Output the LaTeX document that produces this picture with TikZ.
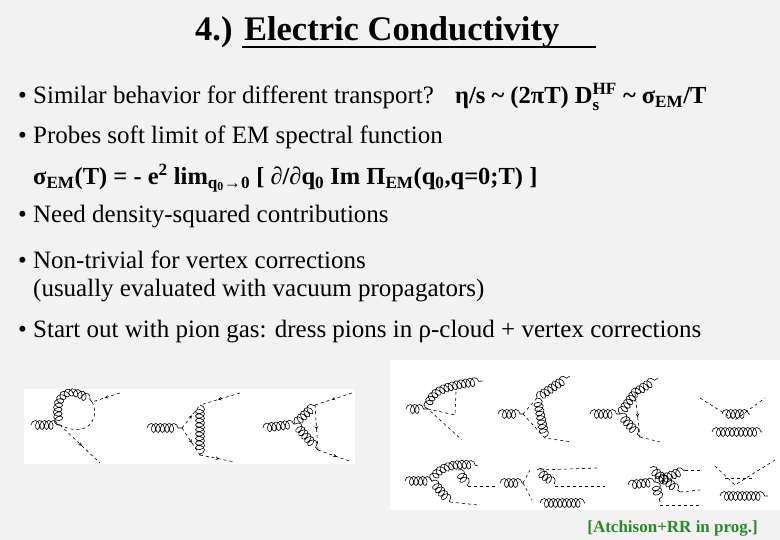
\documentclass[tikz,border=0pt]{standalone}
\usepackage{amsmath}
\usepackage{fontspec}
\setmainfont{Liberation Serif}
\usetikzlibrary{decorations.pathmorphing,decorations.markings}
\definecolor{bg}{HTML}{F2F2F2}
\definecolor{grn}{HTML}{2A8A2A}
\newcommand{\sbx}[1]{\textsubscript{#1}}
\newcommand{\spx}[1]{\textsuperscript{#1}}
\begin{document}
\begin{tikzpicture}[x=1pt,y=-1pt,
  txt/.style={anchor=west,inner sep=0pt,font=\fontsize{25}{28}\selectfont},
  btxt/.style={anchor=west,inner sep=0pt,font=\fontsize{24.5}{28}\selectfont\bfseries},
  gl/.style={decorate,decoration={coil,aspect=0.7,segment length=4.5pt,amplitude=4.5pt},line width=0.6pt},
  dl/.style={line width=0.6pt,dash pattern=on 3pt off 3pt},
  da/.style={dl,postaction={decorate},decoration={markings,mark=at position 0.55 with {\arrow{stealth}}}},
  panel/.style={fill=white,draw=none}]
\fill[bg] (0,0) rectangle (780,540);
\useasboundingbox (0,0) rectangle (780,540);
% title
\node[inner sep=0pt,anchor=west,font=\fontsize{34.5}{38}\selectfont\bfseries] (title) at (195,32) {4.) Electric Conductivity};
\draw[line width=1.3pt] (242,47) -- (596,47);
% bullets
\node[txt] (b1) at (18,97) {• Similar behavior for different transport?};
\node[btxt] (r1) at (455,97) {η/s \textasciitilde{} (2πT) D$_{\text{s}}^{\text{HF}}$ \textasciitilde{} σ\sbx{EM}/T};
\node[txt] (b2) at (18,137) {• Probes soft limit of EM spectral function};
\node[btxt] (f) at (33,178) {σ\sbx{EM}(T) = - e\spx{2} lim\sbx{q\sbx{0}→0} [ ∂/∂q\sbx{0} Im Π\sbx{EM}(q\sbx{0},q=0;T) ]};
\node[txt] (b3) at (18,217) {• Need density-squared contributions};
\node[txt] (b4) at (18,260) {• Non-trivial for vertex corrections};
\node[txt] (b4b) at (33,291) {(usually evaluated with vacuum propagators)};
\node[txt] (b5) at (18,332) {• Start out with pion gas: dress pions in ρ-cloud + vertex corrections};
% panels
\fill[panel] (24,389) rectangle (355,464);
\fill[panel] (390,360) rectangle (780,510);
% left diagram 1
\coordinate (a0) at (31,425); \coordinate (a1) at (60,425);
\coordinate (a2) at (92,402); \coordinate (a3) at (120,393); \coordinate (a4) at (100,463);
\draw[gl] (a0) -- (a1);
\draw[gl] (a1) .. controls (52,395) and (70,385) .. (a2);
\draw[dl] (a2) .. controls (100,415) and (90,440) .. (a1);
\draw[da] (a3) -- (a2);
\draw[da] (a1) -- (a4);
% left diagram 2
\coordinate (c0) at (147,428); \coordinate (c1) at (182,428);
\coordinate (c2) at (200,405); \coordinate (c3) at (200,455);
\coordinate (c4) at (240,393); \coordinate (c5) at (235,462);
\draw[gl] (c0) -- (c1);
\draw[da] (c1) -- (c2); \draw[da] (c1) -- (c3);
\draw[gl] (c2) -- (c3);
\draw[da] (c4) -- (c2); \draw[da] (c3) -- (c5);
% left diagram 3
\coordinate (d0) at (263,428); \coordinate (d1) at (295,424);
\coordinate (d2) at (315,405); \coordinate (d3) at (318,450);
\coordinate (d4) at (352,393); \coordinate (d5) at (352,462);
\draw[gl] (d0) -- (d1);
\draw[gl] (d1) -- (d3);
\draw[gl] (d1) -- (d2);
\draw[da] (d2) -- (d3);
\draw[da] (d4) -- (d2); \draw[da] (d3) -- (d5);
% right row 1
\coordinate (e0) at (406,409); \coordinate (e1) at (428,409);
\coordinate (e2) at (483,381); \coordinate (e3) at (462,440); \coordinate (e4) at (456,392);
\draw[gl] (e0) -- (e1);
\draw[gl] (e1) .. controls (430,390) and (450,385) .. (e2);
\draw[dl] (e4) -- (455,415) -- (e1) -- (e3);
\coordinate (g0) at (498,414); \coordinate (g1) at (523,414);
\coordinate (g2) at (537,398); \coordinate (g3) at (545,438); \coordinate (g4) at (572,442);
\draw[gl] (g0) -- (g1);
\draw[dl] (g1) -- (g2); \draw[dl] (g1) -- (g3) -- (g4);
\draw[gl] (g2) -- (g3); \draw[gl] (g2) -- (570,376);
\coordinate (h0) at (590,414); \coordinate (h1) at (620,414);
\coordinate (h2) at (635,393); \coordinate (h3) at (640,437); \coordinate (h4) at (660,442);
\draw[gl] (h0) -- (h1); \draw[gl] (h1) -- (h3);
\draw[gl] (h1) -- (h2) -- (658,378);
\draw[da] (h2) -- (h3); \draw[dl] (h3) -- (h4);
\coordinate (k0) at (700,398); \coordinate (k1) at (735,420); \coordinate (k2) at (765,398);
\draw[dl] (k0) -- (k1) -- (k2);
\draw[gl] (722,414) -- (750,414);
\draw[gl] (712,432) -- (762,432);
% right row 2
\coordinate (m0) at (405,481); \coordinate (m1) at (432,481);
\draw[gl] (m0) -- (m1);
\draw[gl] (m1) .. controls (440,465) and (460,463) .. (478,466);
\draw[gl] (m1) -- (450,502);
\draw[gl] (458,470) -- (468,486);
\draw[dl] (468,486) -- (498,486); \draw[dl] (450,502) -- (478,505);
\coordinate (n0) at (500,483); \coordinate (n1) at (523,483);
\draw[gl] (n0) -- (n1);
\draw[dl] (n1) -- (530,470); \draw[dl] (n1) -- (532,500);
\draw[gl] (537,470) -- (555,484); \draw[dl] (540,470) -- (597,468); \draw[dl] (555,486) -- (605,486);
\draw[gl] (540,503) -- (585,503);
\coordinate (p0) at (628,485); \coordinate (p1) at (655,482);
\draw[gl] (p0) -- (p1);
\draw[gl] (p1) -- (685,470); \draw[gl] (p1) -- (660,502);
\draw[gl] (650,468) -- (680,492);
\draw[dl] (685,470) -- (700,470); \draw[dl] (680,492) -- (700,490); \draw[dl] (660,505) -- (700,505);
\coordinate (q0) at (715,466); \coordinate (q1) at (735,485); \coordinate (q2) at (775,460);
\draw[dl] (q0) -- (q1) -- (q2);
\draw[dl] (725,478) -- (755,478);
\draw[gl] (720,496) -- (768,496);
% credit
\node[inner sep=0pt,anchor=east,font=\fontsize{17}{19}\selectfont\bfseries,text=grn] (cr) at (758,528) {[Atchison+RR in prog.]};
\end{tikzpicture}
\end{document}
